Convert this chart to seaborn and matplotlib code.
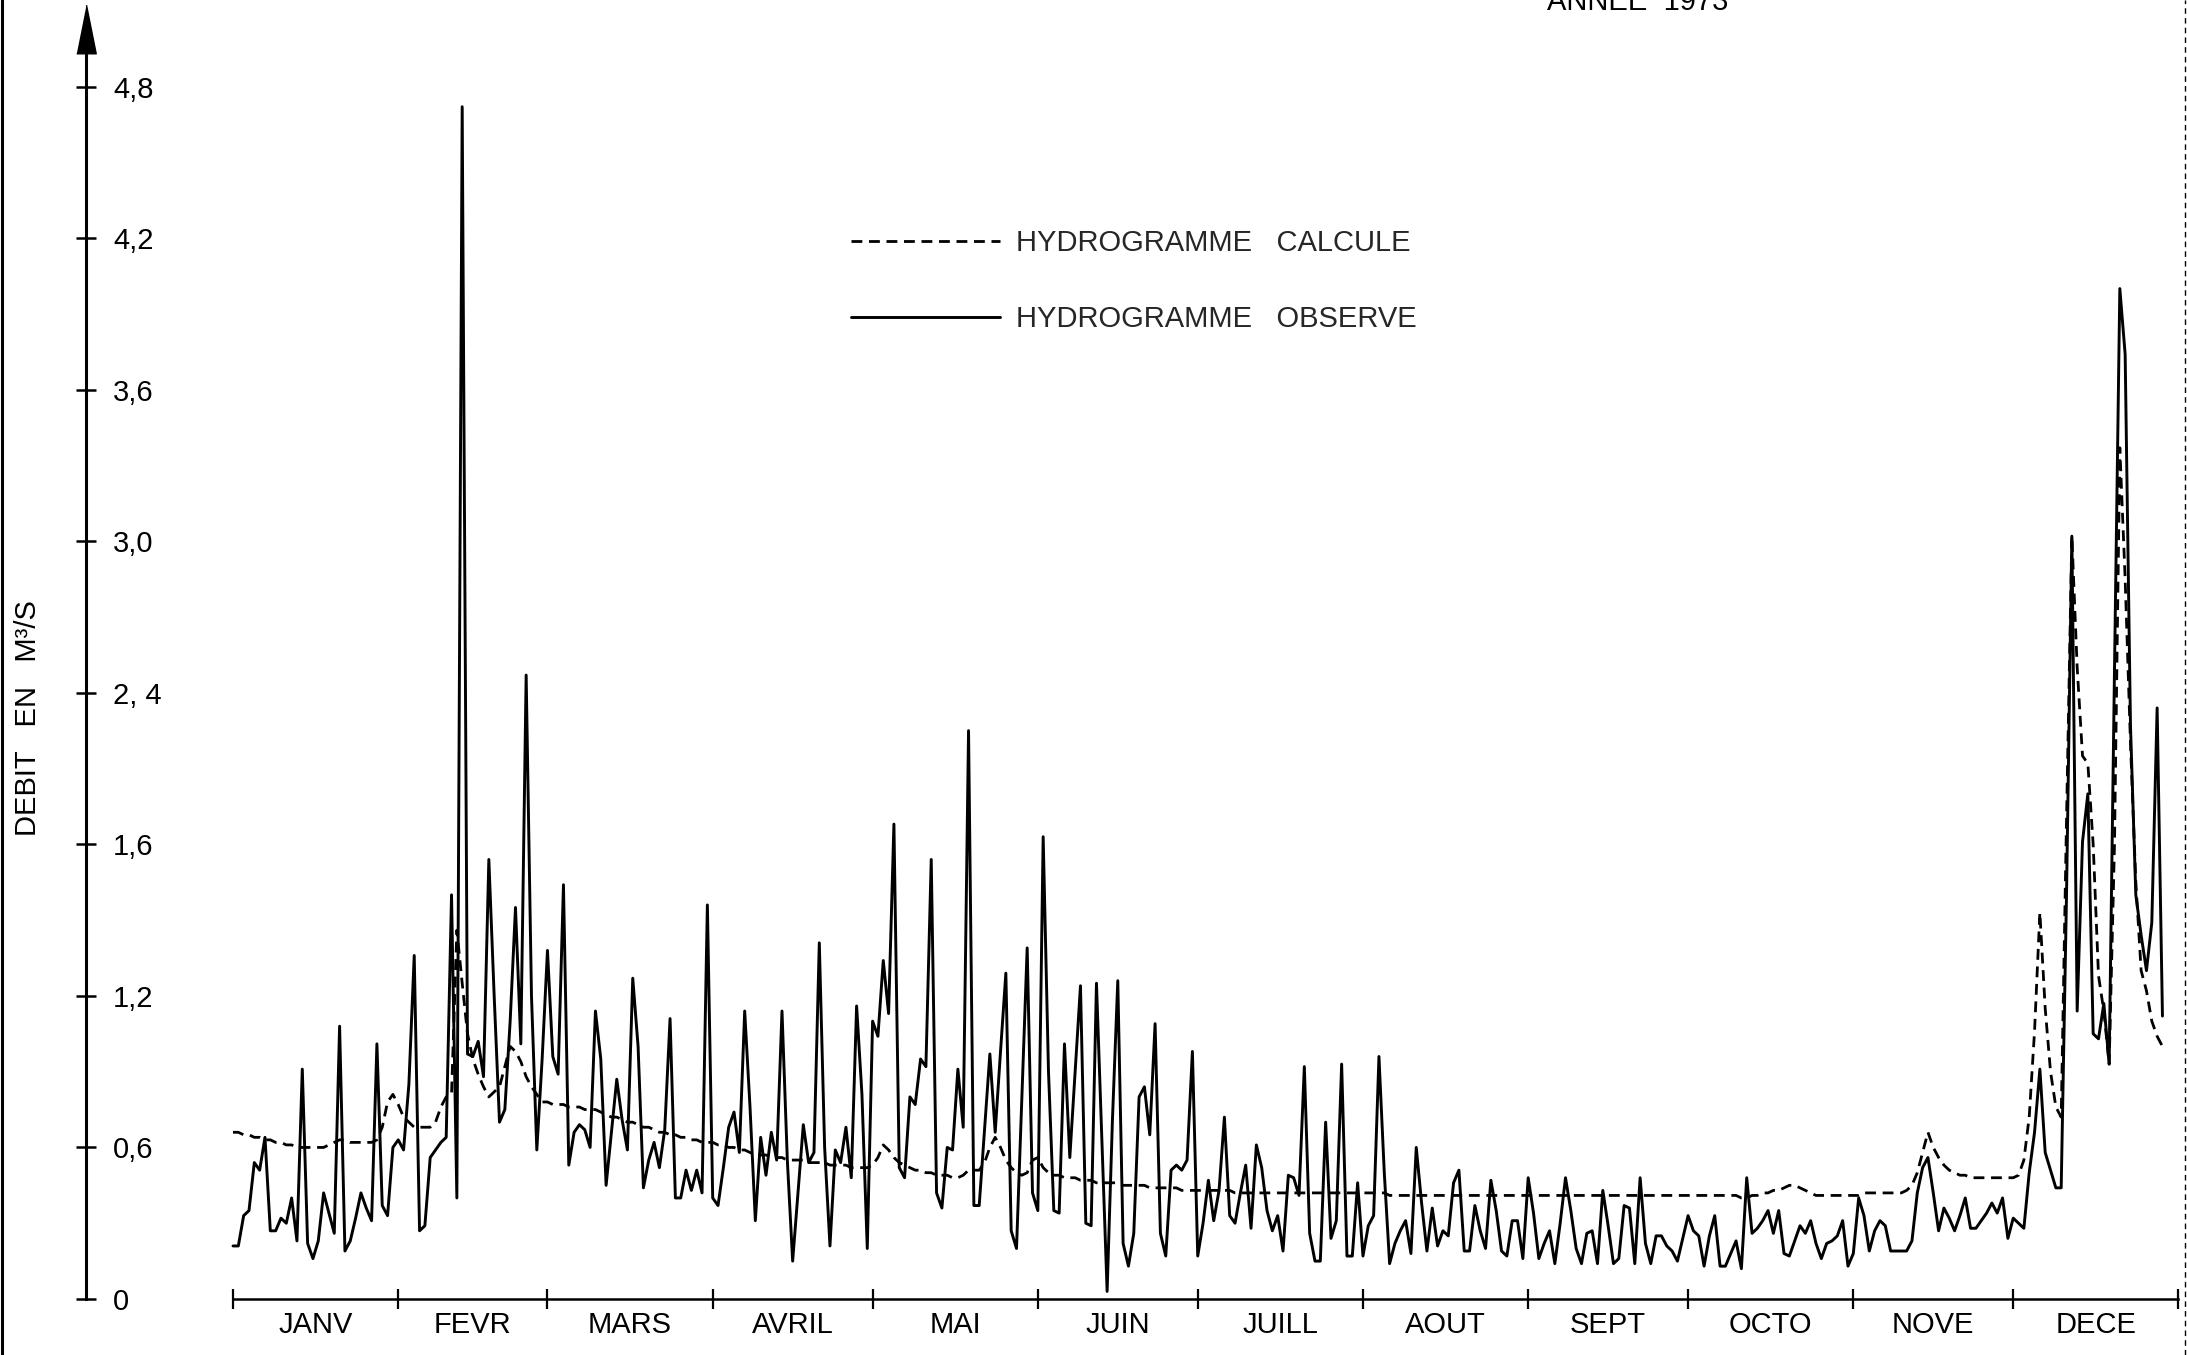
import numpy as np
import pandas as pd
import matplotlib
matplotlib.use("Agg")
import matplotlib.pyplot as plt
import seaborn as sns
from matplotlib.lines import Line2D

# ---------------- data ----------------
months = ["JANV", "FEVR", "MARS", "AVRIL", "MAI", "JUIN",
          "JUILL", "AOUT", "SEPT", "OCTO", "NOVE", "DECE"]
month_days = [31, 28, 31, 30, 31, 30, 31, 31, 30, 31, 30, 31]

y_ticks = [0, 0.6, 1.2, 1.8, 2.4, 3.0, 3.6, 4.2, 4.8]
y_tick_labels = ["0", "0,6", "1,2", "1,6", "2, 4", "3,0", "3,6", "4,2", "4,8"]

# observed daily discharge (m3/s)
obs_jan = [0.21, 0.21, 0.33, 0.35, 0.54, 0.51, 0.64, 0.27, 0.27, 0.32, 0.30, 0.40, 0.23, 0.91, 0.22, 0.16,
           0.23, 0.42, 0.34, 0.26, 1.08, 0.19, 0.23, 0.32, 0.42, 0.36, 0.31, 1.01, 0.37, 0.33, 0.60]
obs_feb = [0.63, 0.59, 0.85, 1.36, 0.27, 0.29, 0.56, 0.59, 0.62, 0.64, 1.60, 0.40, 4.72, 0.97, 0.96, 1.02,
           0.88, 1.74, 1.20, 0.70, 0.75, 1.10, 1.55, 1.01, 2.47, 1.20, 0.59, 0.95]
obs_mar = [1.38, 0.96, 0.89, 1.64, 0.53, 0.66, 0.69, 0.67, 0.60, 1.14, 0.95, 0.45, 0.66, 0.87, 0.71, 0.59,
           1.27, 1.00, 0.44, 0.55, 0.62, 0.52, 0.67, 1.11, 0.40, 0.40, 0.51, 0.43, 0.51, 0.42, 1.56]
obs_apr = [0.40, 0.37, 0.52, 0.68, 0.74, 0.58, 1.14, 0.76, 0.31, 0.64, 0.49, 0.66, 0.55, 1.14, 0.55, 0.15,
           0.42, 0.69, 0.54, 0.58, 1.41, 0.60, 0.21, 0.59, 0.54, 0.68, 0.48, 1.16, 0.81, 0.20]
obs_may = [1.10, 1.04, 1.34, 1.13, 1.88, 0.52, 0.48, 0.80, 0.77, 0.95, 0.92, 1.74, 0.42, 0.36, 0.60, 0.59,
           0.91, 0.68, 2.25, 0.37, 0.37, 0.67, 0.97, 0.66, 0.98, 1.29, 0.27, 0.20, 0.80, 1.39, 0.42]
obs_jun = [0.35, 1.83, 0.90, 0.35, 0.34, 1.01, 0.56, 0.90, 1.24, 0.30, 0.29, 1.25, 0.64, 0.03, 0.71, 1.26,
           0.22, 0.13, 0.26, 0.80, 0.84, 0.65, 1.09, 0.26, 0.17, 0.51, 0.53, 0.51, 0.55, 0.98]
obs_jul = [0.17, 0.30, 0.47, 0.31, 0.43, 0.72, 0.33, 0.30, 0.42, 0.53, 0.28, 0.61, 0.52, 0.35, 0.27, 0.33,
           0.19, 0.49, 0.48, 0.41, 0.92, 0.26, 0.15, 0.15, 0.70, 0.24, 0.31, 0.93, 0.17, 0.17, 0.46]
obs_aug = [0.17, 0.29, 0.33, 0.96, 0.50, 0.14, 0.22, 0.27, 0.31, 0.18, 0.60, 0.38, 0.19, 0.36, 0.21, 0.27,
           0.25, 0.46, 0.51, 0.19, 0.19, 0.37, 0.27, 0.20, 0.47, 0.35, 0.19, 0.17, 0.31, 0.31, 0.16]
obs_sep = [0.48, 0.34, 0.16, 0.22, 0.27, 0.14, 0.30, 0.48, 0.35, 0.20, 0.14, 0.26, 0.27, 0.14, 0.43, 0.29,
           0.14, 0.16, 0.37, 0.36, 0.14, 0.48, 0.22, 0.14, 0.25, 0.25, 0.21, 0.19, 0.15, 0.24]
obs_oct = [0.33, 0.27, 0.25, 0.13, 0.25, 0.33, 0.13, 0.13, 0.18, 0.23, 0.12, 0.48, 0.26, 0.28, 0.31, 0.35,
           0.26, 0.35, 0.18, 0.17, 0.23, 0.29, 0.26, 0.31, 0.22, 0.16, 0.22, 0.23, 0.25, 0.31, 0.13]
obs_nov = [0.18, 0.40, 0.33, 0.19, 0.27, 0.31, 0.29, 0.19, 0.19, 0.19, 0.19, 0.23, 0.42, 0.52, 0.56, 0.42,
           0.27, 0.36, 0.32, 0.27, 0.33, 0.40, 0.28, 0.28, 0.31, 0.34, 0.38, 0.34, 0.40, 0.24]
obs_dec = [0.32, 0.30, 0.28, 0.50, 0.66, 0.91, 0.58, 0.51, 0.44, 0.44, 1.60, 3.02, 1.14, 1.81, 2.00, 1.05,
           1.03, 1.17, 0.93, 2.49, 4.00, 3.74, 2.27, 1.60, 1.44, 1.30, 1.49, 2.34, 1.12]

# computed daily discharge (m3/s)
calc_jan = [0.66, 0.66, 0.65, 0.65, 0.64, 0.64, 0.63, 0.63, 0.62, 0.62, 0.61, 0.61, 0.60, 0.60, 0.60, 0.60,
            0.60, 0.60, 0.61, 0.62, 0.63, 0.63, 0.62, 0.62, 0.62, 0.62, 0.62, 0.63, 0.68, 0.78, 0.81]
calc_feb = [0.77, 0.72, 0.70, 0.68, 0.68, 0.68, 0.68, 0.70, 0.76, 0.80, 0.81, 1.46, 1.25, 1.05, 0.95, 0.89,
            0.84, 0.80, 0.82, 0.84, 0.92, 1.00, 0.98, 0.94, 0.88, 0.84, 0.81, 0.78]
calc_mar = [0.78, 0.77, 0.77, 0.77, 0.76, 0.76, 0.76, 0.75, 0.75, 0.75, 0.74, 0.73, 0.72, 0.72, 0.71, 0.70,
            0.70, 0.69, 0.68, 0.68, 0.67, 0.66, 0.66, 0.65, 0.65, 0.64, 0.64, 0.63, 0.63, 0.62, 0.62]
calc_apr = [0.62, 0.61, 0.61, 0.60, 0.60, 0.59, 0.59, 0.58, 0.57, 0.57, 0.57, 0.56, 0.56, 0.56, 0.55, 0.55,
            0.55, 0.55, 0.54, 0.54, 0.54, 0.54, 0.53, 0.53, 0.53, 0.53, 0.52, 0.52, 0.52, 0.52]
calc_may = [0.53, 0.56, 0.61, 0.59, 0.56, 0.54, 0.53, 0.52, 0.51, 0.51, 0.50, 0.50, 0.49, 0.49, 0.49, 0.48,
            0.48, 0.49, 0.51, 0.51, 0.51, 0.54, 0.60, 0.64, 0.60, 0.55, 0.52, 0.50, 0.49, 0.50, 0.55]
calc_jun = [0.56, 0.52, 0.50, 0.49, 0.49, 0.48, 0.48, 0.48, 0.47, 0.47, 0.47, 0.46, 0.46, 0.46, 0.46, 0.46,
            0.45, 0.45, 0.45, 0.45, 0.45, 0.44, 0.44, 0.44, 0.44, 0.44, 0.44, 0.43, 0.43, 0.43]
calc_jul = [0.43, 0.43, 0.43, 0.43, 0.43, 0.43, 0.43, 0.42, 0.42, 0.42, 0.42, 0.42, 0.42, 0.42, 0.42, 0.42,
            0.42, 0.42, 0.42, 0.42, 0.42, 0.42, 0.42, 0.42, 0.42, 0.42, 0.42, 0.42, 0.42, 0.42, 0.42]
calc_aug = [0.42, 0.42, 0.42, 0.42, 0.42, 0.41, 0.41, 0.41, 0.41, 0.41, 0.41, 0.41, 0.41, 0.41, 0.41, 0.41,
            0.41, 0.41, 0.41, 0.41, 0.41, 0.41, 0.41, 0.41, 0.41, 0.41, 0.41, 0.41, 0.41, 0.41, 0.41]
calc_sep = [0.41, 0.41, 0.41, 0.41, 0.41, 0.41, 0.41, 0.41, 0.41, 0.41, 0.41, 0.41, 0.41, 0.41, 0.41, 0.41,
            0.41, 0.41, 0.41, 0.41, 0.41, 0.41, 0.41, 0.41, 0.41, 0.41, 0.41, 0.41, 0.41, 0.41]
calc_oct = [0.41, 0.41, 0.41, 0.41, 0.41, 0.41, 0.41, 0.41, 0.41, 0.41, 0.40, 0.40, 0.41, 0.41, 0.42, 0.42,
            0.43, 0.43, 0.44, 0.45, 0.45, 0.44, 0.43, 0.42, 0.41, 0.41, 0.41, 0.41, 0.41, 0.41, 0.41]
calc_nov = [0.41, 0.41, 0.42, 0.42, 0.42, 0.42, 0.42, 0.42, 0.42, 0.42, 0.43, 0.45, 0.50, 0.58, 0.66, 0.60,
            0.56, 0.53, 0.51, 0.50, 0.49, 0.49, 0.48, 0.48, 0.48, 0.48, 0.48, 0.48, 0.48, 0.48]
calc_dec = [0.48, 0.49, 0.55, 0.72, 1.06, 1.53, 1.15, 0.90, 0.76, 0.72, 1.90, 3.02, 2.50, 2.15, 2.12, 1.80,
            1.28, 1.14, 0.93, 1.80, 3.37, 2.85, 2.20, 1.65, 1.30, 1.22, 1.10, 1.04, 1.00]

observed = (obs_jan + obs_feb + obs_mar + obs_apr + obs_may + obs_jun + obs_jul + obs_aug
            + obs_sep + obs_oct + obs_nov + obs_dec)
computed = (calc_jan + calc_feb + calc_mar + calc_apr + calc_may + calc_jun + calc_jul + calc_aug
            + calc_sep + calc_oct + calc_nov + calc_dec)

df = pd.DataFrame({"jour": np.arange(len(observed)), "observe": observed, "calcule": computed})

# ---------------- figure ----------------
sns.set_theme(style="white")
plt.rcParams["font.family"] = ["Liberation Sans", "DejaVu Sans"]

W, H = 2187, 1355
fig = plt.figure(figsize=(W / 100, H / 100), dpi=100)
ax = fig.add_axes([0, 0, 1, 1])

# pixel layout of the original sheet
X0, PXD = 233.0, 5.33      # x pixel of day 0, pixels per day
Y0, PXV = 1299.0, 252.6    # y pixel of 0, pixels per m3/s
ax.set_xlim(-X0 / PXD, (W - X0) / PXD)
ax.set_ylim((Y0 - H) / PXV, Y0 / PXV)
ax.set_facecolor("white")
fig.patch.set_facecolor("white")

sns.lineplot(data=df, x="jour", y="calcule", ax=ax, color="black", lw=2.0,
             label="HYDROGRAMME   CALCULE")
ax.lines[-1].set_dashes([3.9, 2.4])
sns.lineplot(data=df, x="jour", y="observe", ax=ax, color="black", lw=2.1,
             label="HYDROGRAMME   OBSERVE")
ax.set_xlabel("")
ax.set_ylabel("")

# axes lines
y_axis_x = (86 - X0) / PXD
ax.spines["left"].set_visible(False)
ax.spines["top"].set_visible(False)
ax.spines["right"].set_position(("data", y_axis_x))
ax.spines["right"].set_bounds(0, 4.98)
ax.spines["right"].set_linewidth(2.2)
ax.spines["right"].set_color("black")
ax.spines["bottom"].set_position(("data", 0))
bounds = np.cumsum([0] + month_days)
ax.spines["bottom"].set_bounds(0, bounds[-1])
ax.spines["bottom"].set_linewidth(1.8)
ax.spines["bottom"].set_color("black")

ax.yaxis.tick_right()
ax.set_yticks(y_ticks, y_tick_labels)
ax.tick_params(axis="y", direction="inout", length=15, width=1.8, pad=12,
               labelsize=21, colors="black", right=True, left=False)

ax.set_xticks(bounds, [""] * len(bounds))
mids = (bounds[:-1] + bounds[1:]) / 2
ax.set_xticks(mids, months, minor=True)
ax.tick_params(axis="x", which="major", direction="inout", length=15, width=1.6,
               colors="black", bottom=True)
ax.tick_params(axis="x", which="minor", length=0, pad=8.5, labelsize=21,
               colors="black", bottom=True)
ax.grid(False)

# arrow head on the y axis
ax.plot([y_axis_x], [(Y0 - 28.5) / PXV], marker=[(-0.4, -1), (0.4, -1), (0, 1)],
        markersize=35, color="black", clip_on=False, lw=0)

# legend
leg = ax.legend(loc="upper left", bbox_to_anchor=(851 / W, 1 - 229 / H),
                bbox_transform=fig.transFigure, frameon=False, fontsize=21,
                handlelength=5.1, handletextpad=0.55, labelspacing=1.65,
                borderpad=0, borderaxespad=0)

# texts
fig.text(28 / W, 1 - 718 / H, "DEBIT   EN   M³/S", rotation=90, ha="center",
         va="center", fontsize=21, color="black")
fig.text(1638 / W, 1 - 9.5 / H, "ANNEE  1973", ha="center", va="baseline",
         fontsize=21, color="black")

# edges of the scanned sheet
fig.add_artist(Line2D([1.5 / W, 1.5 / W], [0, 1], transform=fig.transFigure,
                      color="black", lw=2.2))
fig.add_artist(Line2D([2184.5 / W, 2184.5 / W], [0, 1], transform=fig.transFigure,
                      color="black", lw=1.0, linestyle=(0, (4, 3))))

fig.savefig("out.png", dpi=100)
